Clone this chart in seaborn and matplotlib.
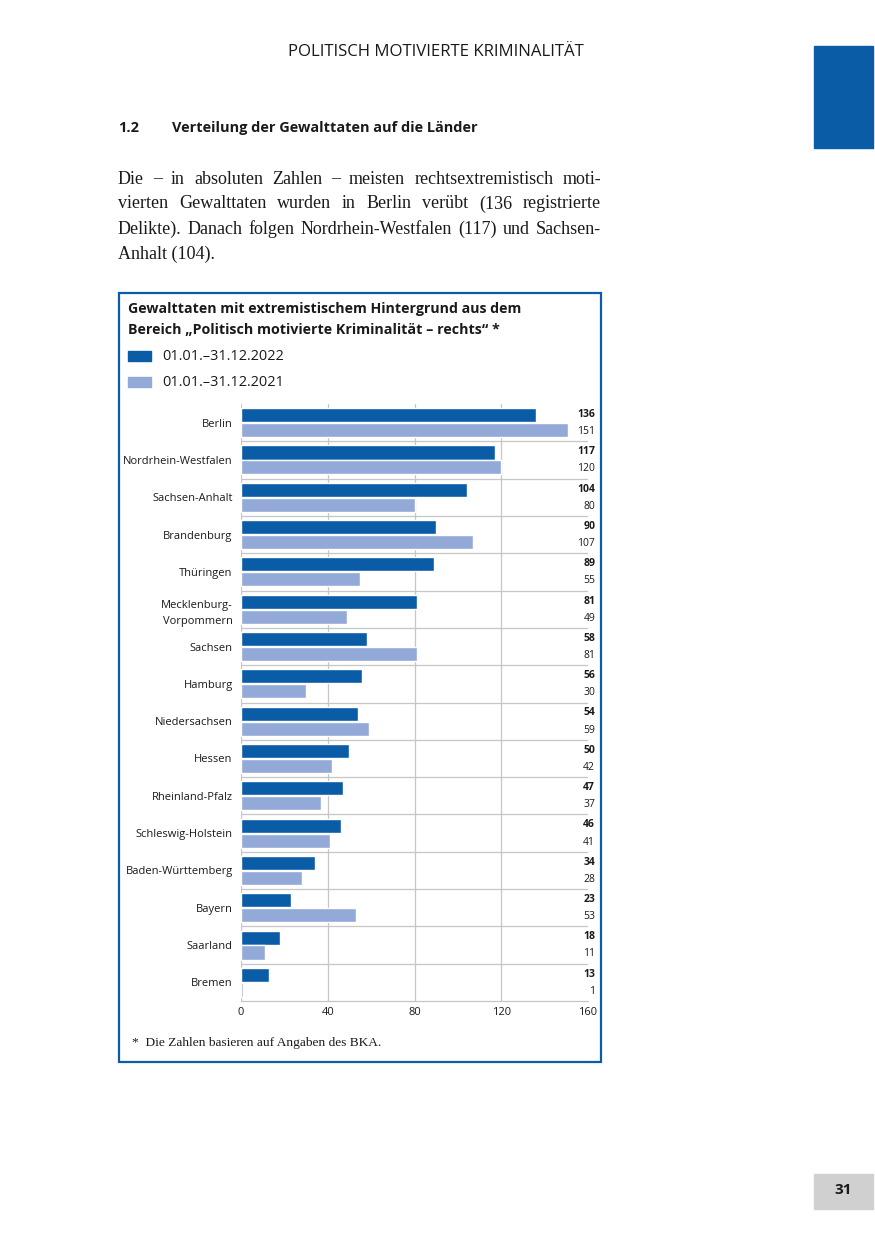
import pandas as pd
import matplotlib.pyplot as plt
from matplotlib import font_manager
from matplotlib.patches import Rectangle
import seaborn as sns

sns.set_theme(style='white')


# pick a sans family that really has a bold face installed
def has_bold(name):
    for f in font_manager.fontManager.ttflist:
        if f.name == name and f.weight in (600, 700, 'bold', 'semibold', 'demibold'):
            return True
    return False


sans = 'DejaVu Sans'
for cand in ['Noto Sans', 'Open Sans', 'Lato', 'Roboto', 'Liberation Sans']:
    if has_bold(cand):
        sans = cand
        break
plt.rcParams['font.family'] = [sans, 'DejaVu Sans']
serif = 'Liberation Serif'

W, H = 875, 1241

# ----------------------------------------
# Data
# ----------------------------------------
laender = ["Berlin", "Nordrhein-Westfalen", "Sachsen-Anhalt", "Brandenburg",
           "Thüringen", "Mecklenburg-\nVorpommern", "Sachsen", "Hamburg",
           "Niedersachsen", "Hessen", "Rheinland-Pfalz", "Schleswig-Holstein",
           "Baden-Württemberg", "Bayern", "Saarland", "Bremen"]
werte_2022 = [136, 117, 104, 90, 89, 81, 58, 56, 54, 50, 47, 46, 34, 23, 18, 13]
werte_2021 = [151, 120, 80, 107, 55, 49, 81, 30, 59, 42, 37, 41, 28, 53, 11, 1]
jahre = ["01.01.–31.12.2022", "01.01.–31.12.2021"]
x_ticks = [0, 40, 80, 120, 160]

dark_blue = "#0a5ca7"
light_blue = "#93aad9"
grid_col = "#c6c6c6"
txt_col = "#1a1a1a"

df = pd.DataFrame({
    "Land": laender * 2,
    "Wert": werte_2022 + werte_2021,
    "Jahr": [jahre[0]] * len(laender) + [jahre[1]] * len(laender),
})


def fx(x):
    return x / W


def fy(y):
    return 1 - y / H


fig = plt.figure(figsize=(W / 100, H / 100), dpi=100)
renderer = fig.canvas.get_renderer()


def fit_text(x_left, x_right, y, s, **kw):
    # shrink/grow font so the string spans x_left..x_right
    t = fig.text(fx(x_left), fy(y), s, ha='left', va='center', **kw)
    wd = t.get_window_extent(renderer).width
    t.set_fontsize(t.get_fontsize() * (x_right - x_left) / wd)
    return t


# ----------------------------------------
# Page header and text
# ----------------------------------------
fit_text(288, 584, 52, "POLITISCH MOTIVIERTE KRIMINALITÄT", fontsize=10.5, color=txt_col)
fig.patches.append(Rectangle((fx(814), fy(148)), fx(873) - fx(814), fy(46) - fy(148),
                             transform=fig.transFigure, color=dark_blue, zorder=0))
fig.text(fx(118), fy(128), "1.2", ha='left', va='center', fontsize=10.5,
         fontweight='bold', color=txt_col)
fit_text(172, 478, 128, "Verteilung der Gewalttaten auf die Länder", fontsize=10.5,
         fontweight='bold', color=txt_col)

para = ["Die – in absoluten Zahlen – meisten rechtsextremistisch moti-",
        "vierten Gewalttaten wurden in Berlin verübt (136 registrierte",
        "Delikte). Danach folgen Nordrhein-Westfalen (117) und Sachsen-",
        "Anhalt (104)."]
left_px, right_px = 118, 601
serif_kw = dict(fontsize=13, family=serif, color=txt_col)
for i, line in enumerate(para):
    y = fy(179 + 25 * i)
    words = line.split(" ")
    if i == len(para) - 1:
        fig.text(fx(left_px), y, line, ha='left', va='center', **serif_kw)
        continue
    txts = [fig.text(0, y, w, ha='left', va='center', **serif_kw) for w in words]
    widths = [t.get_window_extent(renderer).width for t in txts]
    gap = (right_px - left_px - sum(widths)) / (len(words) - 1)
    xpos = left_px
    for t, wd in zip(txts, widths):
        t.set_x(fx(xpos))
        xpos += wd + gap

# ----------------------------------------
# Chart box
# ----------------------------------------
fig.patches.append(Rectangle((fx(119), fy(1062)), fx(601) - fx(119), fy(293) - fy(1062),
                             transform=fig.transFigure, fill=False, edgecolor=dark_blue,
                             linewidth=1.6, zorder=0))
fit_text(128, 521, 309, "Gewalttaten mit extremistischem Hintergrund aus dem",
         fontsize=10.5, fontweight='bold', color=txt_col)
fit_text(128, 500, 330, "Bereich „Politisch motivierte Kriminalität – rechts“ *",
         fontsize=10.5, fontweight='bold', color=txt_col)
for j, (lab, col) in enumerate(zip(jahre, [dark_blue, light_blue])):
    yc = 356 + 26 * j
    fig.patches.append(Rectangle((fx(128), fy(yc + 5)), fx(151) - fx(128), fy(yc - 5) - fy(yc + 5),
                                 transform=fig.transFigure, color=col))
    fit_text(162, 284, yc, lab, fontsize=9.5, color=txt_col)

fit_text(132, 380, 1043, "*  Die Zahlen basieren auf Angaben des BKA.",
         fontsize=9, family=serif, color=txt_col)

# page number
fig.patches.append(Rectangle((fx(814), fy(1209)), fx(873) - fx(814), fy(1174) - fy(1209),
                             transform=fig.transFigure, color='#d0d0d0', zorder=0))
fig.text(fx(843), fy(1190), "31", ha='center', va='center', fontsize=11,
         fontweight='bold', color=txt_col)

# ----------------------------------------
# Bar chart
# ----------------------------------------
ax = fig.add_axes([fx(241), fy(1001), fx(588) - fx(241), fy(404) - fy(1001)])
sns.barplot(data=df, y='Land', x='Wert', hue='Jahr', orient='h', ax=ax,
            palette=[dark_blue, light_blue], width=0.8, gap=0.06, legend=False,
            saturation=1, zorder=3)

ax.set_xlim(0, 160)
ax.set_ylim(len(laender) - 0.5, -0.5)
ax.set_xticks(x_ticks)
ax.set_xticklabels([str(t) for t in x_ticks], fontsize=8, color=txt_col)
ax.set_yticks(range(len(laender)))
ax.set_yticklabels(laender, fontsize=8, color=txt_col, linespacing=1.6)
ax.tick_params(axis='y', length=0, pad=6)
ax.tick_params(axis='x', length=0, pad=4)
ax.set_xlabel('')
ax.set_ylabel('')

for xv in x_ticks[:-1]:
    ax.axvline(xv, color=grid_col, linewidth=0.9, zorder=1)
for i in range(len(laender) - 1):
    ax.axhline(i + 0.5, color=grid_col, linewidth=0.9, zorder=1)
for s in ['top', 'right', 'left']:
    ax.spines[s].set_visible(False)
ax.spines['bottom'].set_color(grid_col)
ax.spines['bottom'].set_linewidth(0.9)

for i, (a, b) in enumerate(zip(werte_2022, werte_2021)):
    ax.text(163.3, i - 0.22, str(a), ha='right', va='center', fontsize=7.5,
            fontweight='bold', color=txt_col, clip_on=False)
    ax.text(163.3, i + 0.24, str(b), ha='right', va='center', fontsize=7.5,
            color=txt_col, clip_on=False)

fig.savefig("out.png", dpi=100)
